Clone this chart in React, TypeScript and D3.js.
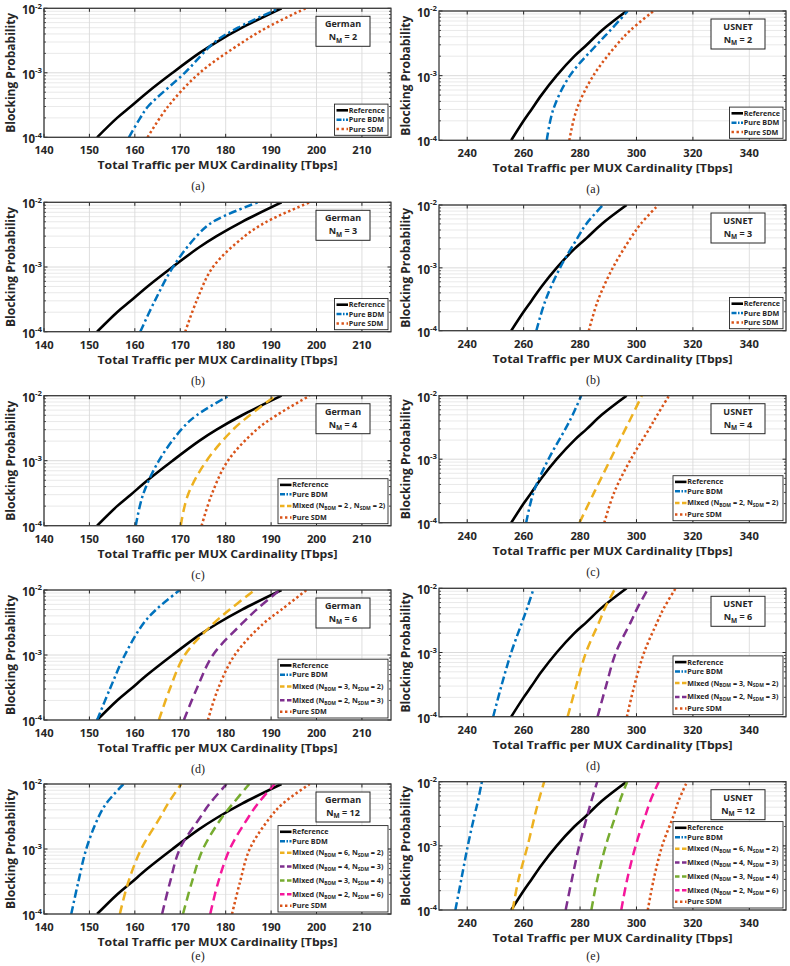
import * as d3 from "d3";

type Pt = [number, number];

// axis ticks
const germanTicks = [140, 150, 160, 170, 180, 190, 200, 210];
const usnetTicks = [240, 260, 280, 300, 320, 340];
const probTicks = [1e-4, 1e-3, 1e-2];

// German network, [traffic Tbps, blocking probability]
const germanRef: Pt[] = [[151.7, 1e-4], [156.1, 2e-4], [159.1, 3e-4], [162.8, 5e-4], [168.3, 1e-3], [174.1, 2e-3], [178, 3e-3], [183.6, 5e-3], [192.3, 1e-2]];

const germanBdm2: Pt[] = [[158.7, 1e-4], [161.2, 2e-4], [162.9, 3e-4], [171, 1e-3], [177.6, 3e-3], [182.7, 5e-3], [191.8, 1e-2]];
const germanSdm2: Pt[] = [[162.8, 1e-4], [167.3, 3e-4], [174.3, 1e-3], [183.8, 3e-3], [189, 5e-3], [197.6, 1e-2]];

const germanBdm3: Pt[] = [[161.2, 1e-4], [164.4, 3e-4], [168.4, 1e-3], [173.6, 3e-3], [177.2, 5e-3], [187.1, 1e-2]];
const germanSdm3: Pt[] = [[171.1, 1e-4], [173.6, 3e-4], [177.2, 1e-3], [184.2, 3e-3], [189, 5e-3], [198.5, 1e-2]];

const germanBdm4: Pt[] = [[160.2, 1e-4], [161.8, 3e-4], [165.3, 1e-3], [170.2, 3e-3], [173.6, 5e-3], [180.7, 1e-2]];
const germanMix4_22: Pt[] = [[170.1, 1e-4], [171.7, 3e-4], [175.8, 1e-3], [181.6, 3e-3], [185.3, 5e-3], [191, 1e-2]];
const germanSdm4: Pt[] = [[174.7, 1e-4], [176.9, 3e-4], [180.5, 1e-3], [186.8, 3e-3], [191.2, 5e-3], [198.5, 1e-2]];

const germanBdm6: Pt[] = [[151.7, 1e-4], [154.5, 3e-4], [157.8, 1e-3], [161.8, 3e-3], [164.7, 5e-3], [169.9, 1e-2]];
const germanMix6_32: Pt[] = [[165.3, 1e-4], [167.7, 3e-4], [171, 1e-3], [177.2, 3e-3], [180.9, 5e-3], [186.4, 1e-2]];
const germanMix6_23: Pt[] = [[170.8, 1e-4], [173.6, 3e-4], [177.2, 1e-3], [183.5, 3e-3], [186.8, 5e-3], [191.9, 1e-2]];
const germanSdm6: Pt[] = [[176.1, 1e-4], [178.3, 3e-4], [182, 1e-3], [188.2, 3e-3], [192.3, 5e-3], [197.8, 1e-2]];

const germanBdm12: Pt[] = [[146, 1e-4], [147.5, 3e-4], [149.3, 1e-3], [151.9, 3e-3], [153.7, 5e-3], [157.5, 1e-2]];
const germanMix12_62: Pt[] = [[156.7, 1e-4], [158.5, 3e-4], [161.4, 1e-3], [165.5, 3e-3], [167.3, 5e-3], [170.2, 1e-2]];
const germanMix12_43: Pt[] = [[166, 1e-4], [167.7, 3e-4], [169.9, 1e-3], [174.3, 3e-3], [176.5, 5e-3], [180.2, 1e-2]];
const germanMix12_34: Pt[] = [[170.6, 1e-4], [172.5, 3e-4], [175, 1e-3], [179.1, 3e-3], [181.6, 5e-3], [185.2, 1e-2]];
const germanMix12_26: Pt[] = [[176.6, 1e-4], [178.3, 3e-4], [180.9, 1e-3], [184.9, 3e-3], [187.1, 5e-3], [190.8, 1e-2]];
const germanSdm12: Pt[] = [[181.4, 1e-4], [183.1, 3e-4], [185.3, 1e-3], [189.7, 3e-3], [192.6, 5e-3], [198.5, 1e-2]];

// USNET network
const usnetRef: Pt[] = [[255.6, 1e-4], [260, 2e-4], [262.8, 3e-4], [266.3, 5e-4], [271.7, 1e-3], [278, 2e-3], [282.4, 3e-3], [287.7, 5e-3], [296.5, 1e-2]];

const usnetBdm2: Pt[] = [[268.2, 1e-4], [270.5, 3e-4], [276.4, 1e-3], [285.9, 3e-3], [290.7, 5e-3], [296.9, 1e-2]];
const usnetSdm2: Pt[] = [[276.2, 1e-4], [278.8, 3e-4], [284.7, 1e-3], [293, 3e-3], [297.8, 5e-3], [306, 1e-2]];

const usnetBdm3: Pt[] = [[264.5, 1e-4], [267.7, 3e-4], [272.9, 1e-3], [279.1, 3e-3], [282.2, 5e-3], [288.1, 1e-2]];
const usnetSdm3: Pt[] = [[283.1, 1e-4], [286.3, 3e-4], [291.6, 1e-3], [298, 3e-3], [301.5, 5e-3], [307.7, 1e-2]];

const usnetBdm4: Pt[] = [[260.9, 1e-4], [263.5, 3e-4], [268.8, 1e-3], [274.8, 3e-3], [277.4, 5e-3], [280.4, 1e-2]];
const usnetMix4_22: Pt[] = [[279.8, 1e-4], [285, 3e-4], [290.8, 1e-3], [296.1, 3e-3], [298.6, 5e-3], [301.9, 1e-2]];
const usnetSdm4: Pt[] = [[288.6, 1e-4], [292.1, 3e-4], [298, 1e-3], [304.5, 3e-3], [307.4, 5e-3], [311.5, 1e-2]];

const usnetBdm6: Pt[] = [[249.2, 1e-4], [252.1, 3e-4], [255.6, 1e-3], [259.5, 3e-3], [261.3, 5e-3], [263.6, 1e-2]];
const usnetMix6_32: Pt[] = [[275.6, 1e-4], [278.6, 3e-4], [282.1, 1e-3], [286.8, 3e-3], [288.9, 5e-3], [292.5, 1e-2]];
const usnetMix6_23: Pt[] = [[286.2, 1e-4], [289.2, 3e-4], [292.7, 1e-3], [298, 3e-3], [300.4, 5e-3], [304.2, 1e-2]];
const usnetSdm6: Pt[] = [[296.6, 1e-4], [299.2, 3e-4], [302.7, 1e-3], [307.4, 3e-3], [309.8, 5e-3], [313.9, 1e-2]];

const usnetBdm12: Pt[] = [[235.8, 1e-4], [237.9, 3e-4], [240.2, 1e-3], [242.6, 3e-3], [243.8, 5e-3], [245.2, 1e-2]];
const usnetMix12_62: Pt[] = [[256.1, 1e-4], [258.2, 3e-4], [261.4, 1e-3], [264, 3e-3], [265.3, 5e-3], [267.3, 1e-2]];
const usnetMix12_43: Pt[] = [[274.9, 1e-4], [277.1, 3e-4], [279.7, 1e-3], [282.6, 3e-3], [284, 5e-3], [286.1, 1e-2]];
const usnetMix12_34: Pt[] = [[284, 1e-4], [286.1, 3e-4], [289.1, 1e-3], [292.6, 3e-3], [294.1, 5e-3], [296.7, 1e-2]];
const usnetMix12_26: Pt[] = [[294.6, 1e-4], [296.7, 3e-4], [299.7, 1e-3], [303.2, 3e-3], [304.9, 5e-3], [307.9, 1e-2]];
const usnetSdm12: Pt[] = [[304, 1e-4], [306.1, 3e-4], [309.1, 1e-3], [313.2, 3e-3], [314.9, 5e-3], [317.9, 1e-2]];

type Kind = "ref" | "bdm" | "mix" | "sdm";
type Curve = { data: Pt[]; kind: Kind; n?: [number, number]; sep?: string };
type PanelDef = { net: "German" | "USNET"; nm: number; caption: string; curves: Curve[] };

const mixCurves = (list: [Pt[], number, number][], sep = ", "): Curve[] =>
  list.map(([data, a, b]) => ({ data, kind: "mix" as Kind, n: [a, b] as [number, number], sep }));

const germanPanels: PanelDef[] = [
  { net: "German", nm: 2, caption: "(a)", curves: [{ data: germanRef, kind: "ref" }, { data: germanBdm2, kind: "bdm" }, { data: germanSdm2, kind: "sdm" }] },
  { net: "German", nm: 3, caption: "(b)", curves: [{ data: germanRef, kind: "ref" }, { data: germanBdm3, kind: "bdm" }, { data: germanSdm3, kind: "sdm" }] },
  {
    net: "German", nm: 4, caption: "(c)",
    curves: [{ data: germanRef, kind: "ref" }, { data: germanBdm4, kind: "bdm" }, ...mixCurves([[germanMix4_22, 2, 2]], " , "), { data: germanSdm4, kind: "sdm" }],
  },
  {
    net: "German", nm: 6, caption: "(d)",
    curves: [{ data: germanRef, kind: "ref" }, { data: germanBdm6, kind: "bdm" }, ...mixCurves([[germanMix6_32, 3, 2], [germanMix6_23, 2, 3]]), { data: germanSdm6, kind: "sdm" }],
  },
  {
    net: "German", nm: 12, caption: "(e)",
    curves: [
      { data: germanRef, kind: "ref" }, { data: germanBdm12, kind: "bdm" },
      ...mixCurves([[germanMix12_62, 6, 2], [germanMix12_43, 4, 3], [germanMix12_34, 3, 4], [germanMix12_26, 2, 6]]),
      { data: germanSdm12, kind: "sdm" },
    ],
  },
];

const usnetPanels: PanelDef[] = [
  { net: "USNET", nm: 2, caption: "(a)", curves: [{ data: usnetRef, kind: "ref" }, { data: usnetBdm2, kind: "bdm" }, { data: usnetSdm2, kind: "sdm" }] },
  { net: "USNET", nm: 3, caption: "(b)", curves: [{ data: usnetRef, kind: "ref" }, { data: usnetBdm3, kind: "bdm" }, { data: usnetSdm3, kind: "sdm" }] },
  {
    net: "USNET", nm: 4, caption: "(c)",
    curves: [{ data: usnetRef, kind: "ref" }, { data: usnetBdm4, kind: "bdm" }, ...mixCurves([[usnetMix4_22, 2, 2]]), { data: usnetSdm4, kind: "sdm" }],
  },
  {
    net: "USNET", nm: 6, caption: "(d)",
    curves: [{ data: usnetRef, kind: "ref" }, { data: usnetBdm6, kind: "bdm" }, ...mixCurves([[usnetMix6_32, 3, 2], [usnetMix6_23, 2, 3]]), { data: usnetSdm6, kind: "sdm" }],
  },
  {
    net: "USNET", nm: 12, caption: "(e)",
    curves: [
      { data: usnetRef, kind: "ref" }, { data: usnetBdm12, kind: "bdm" },
      ...mixCurves([[usnetMix12_62, 6, 2], [usnetMix12_43, 4, 3], [usnetMix12_34, 3, 4], [usnetMix12_26, 2, 6]]),
      { data: usnetSdm12, kind: "sdm" },
    ],
  },
];

// layout of the two columns
const leftTops = [8.3, 202.3, 395.7, 590, 784];
const leftHeights = [129, 129.4, 130, 130, 130];
const rightTops = [11, 205, 395.7, 588.3, 781.7];
const rightHeights = [129.3, 125.7, 127, 128.4, 128.3];

const FONT = "'Open Sans', 'DejaVu Sans', sans-serif";
const SERIF = "'Liberation Serif', 'Times New Roman', serif";
const INK = "#262626";
const mixColors = ["#EDB120", "#7E2F8E", "#77AC30", "#F5179B"];

function strokeFor(c: Curve, mixIdx: number) {
  switch (c.kind) {
    case "ref":
      return { color: "#000", dash: undefined as string | undefined, width: 2.6 };
    case "bdm":
      return { color: "#0072BD", dash: "8 3.2 2.4 3.2", width: 2.5 };
    case "sdm":
      return { color: "#D95319", dash: "2.4 2.6", width: 2.5 };
    default:
      return { color: mixColors[mixIdx % mixColors.length], dash: "9 5", width: 2.5 };
  }
}

function LegendLabel({ c }: { c: Curve }) {
  const sub = { fontSize: 5, dy: 1.8 };
  if (c.kind === "ref") return <>Reference</>;
  if (c.kind === "bdm") return <>Pure BDM</>;
  if (c.kind === "sdm") return <>Pure SDM</>;
  const [a, b] = c.n!;
  return (
    <>
      <tspan>Mixed (N</tspan>
      <tspan fontSize={sub.fontSize} dy={sub.dy}>BDM</tspan>
      <tspan dy={-sub.dy}>{` = ${a}${c.sep}N`}</tspan>
      <tspan fontSize={sub.fontSize} dy={sub.dy}>SDM</tspan>
      <tspan dy={-sub.dy}>{` = ${b})`}</tspan>
    </>
  );
}

function Panel({ def, x0, x1, top, h, domain, ticks, id }: {
  def: PanelDef; x0: number; x1: number; top: number; h: number; domain: [number, number]; ticks: number[]; id: string;
}) {
  const bottom = top + h;
  const x = d3.scaleLinear().domain(domain).range([x0, x1]);
  const y = d3.scaleLog().domain([1e-4, 1e-2]).range([bottom, top]);
  const minors: number[] = [];
  [-4, -3].forEach((k) => d3.range(2, 10).forEach((m) => minors.push(m * Math.pow(10, k))));

  const line = d3.line<Pt>().x((d) => x(d[0])).y((d) => y(d[1])).curve(d3.curveCatmullRom.alpha(0.5));

  let mixCount = 0;
  const styled = def.curves.map((c) => {
    const s = strokeFor(c, c.kind === "mix" ? mixCount : 0);
    if (c.kind === "mix") mixCount++;
    return { c, s };
  });

  // legend box
  const hasMix = def.curves.some((c) => c.kind === "mix");
  const rowH = (c: Curve) => (c.kind === "mix" ? 13.8 : 9.4);
  const legH = 3 + d3.sum(def.curves, rowH);
  const legW = hasMix ? 110 : 53.5;
  const legX = x1 - 3 - legW;
  const legY = bottom - 2 - legH;
  let acc = legY + 1.5;
  const rows = styled.map(({ c, s }) => {
    const hh = rowH(c);
    const cy = acc + hh / 2;
    acc += hh;
    return { c, s, cy };
  });

  const annX = x1 - 75;
  const annY = top + 8;
  const cx = (x0 + x1) / 2;
  const cyMid = (top + bottom) / 2;

  return (
    <g>
      <defs>
        <clipPath id={id}>
          <rect x={x0} y={top} width={x1 - x0} height={h} />
        </clipPath>
      </defs>
      <rect x={x0} y={top} width={x1 - x0} height={h} fill="#fff" />
      {/* grid */}
      {minors.map((v) => (
        <line key={"m" + v} x1={x0} x2={x1} y1={y(v)} y2={y(v)} stroke="#e3e3e3" strokeWidth={0.8} />
      ))}
      {probTicks.map((v) => (
        <line key={"p" + v} x1={x0} x2={x1} y1={y(v)} y2={y(v)} stroke="#d6d6d6" strokeWidth={0.9} />
      ))}
      {ticks.map((t) => (
        <line key={"t" + t} x1={x(t)} x2={x(t)} y1={top} y2={bottom} stroke="#dadada" strokeWidth={0.9} />
      ))}
      {/* curves */}
      <g clipPath={`url(#${id})`}>
        {styled.map(({ c, s }, i) => (
          <path key={i} d={line(c.data) ?? ""} fill="none" stroke={s.color} strokeWidth={s.width} strokeDasharray={s.dash} />
        ))}
      </g>
      {/* tick marks */}
      {ticks.map((t) => (
        <g key={"k" + t}>
          <line x1={x(t)} x2={x(t)} y1={bottom} y2={bottom - 3.5} stroke={INK} strokeWidth={1} />
          <line x1={x(t)} x2={x(t)} y1={top} y2={top + 3.5} stroke={INK} strokeWidth={1} />
        </g>
      ))}
      {minors.map((v) => (
        <g key={"mk" + v}>
          <line x1={x0} x2={x0 + 2} y1={y(v)} y2={y(v)} stroke={INK} strokeWidth={0.8} />
          <line x1={x1} x2={x1 - 2} y1={y(v)} y2={y(v)} stroke={INK} strokeWidth={0.8} />
        </g>
      ))}
      {probTicks.map((v) => (
        <g key={"pk" + v}>
          <line x1={x0} x2={x0 + 3.5} y1={y(v)} y2={y(v)} stroke={INK} strokeWidth={1} />
          <line x1={x1} x2={x1 - 3.5} y1={y(v)} y2={y(v)} stroke={INK} strokeWidth={1} />
        </g>
      ))}
      <rect x={x0} y={top} width={x1 - x0} height={h} fill="none" stroke="#3a3a3a" strokeWidth={1.3} />

      {/* tick labels */}
      {ticks.map((t) => (
        <text key={"tl" + t} x={x(t)} y={bottom + 16.8} textAnchor="middle" fontFamily={FONT} fontWeight={700} fontSize={11.2} fill={INK}>
          {t}
        </text>
      ))}
      {probTicks.map((v) => (
        <text key={"pl" + v} x={x0 - 2} y={y(v) + 6} textAnchor="end" fontFamily={FONT} fontWeight={700} fontSize={11.5} fill={INK}>
          <tspan>10</tspan>
          <tspan fontSize={7.8} dy={-5.8}>{String(Math.round(Math.log10(v)))}</tspan>
        </text>
      ))}
      <text x={cx} y={bottom + 32} textAnchor="middle" fontFamily={FONT} fontWeight={700} fontSize={11.2} fill={INK}
        textLength={240} lengthAdjust="spacingAndGlyphs">
        Total Traffic per MUX Cardinality [Tbps]
      </text>
      <text transform={`translate(${x0 - 29.5},${cyMid}) rotate(-90)`} textAnchor="middle" fontFamily={FONT} fontWeight={700}
        fontSize={12} fill={INK} textLength={120} lengthAdjust="spacingAndGlyphs">
        Blocking Probability
      </text>

      {/* network annotation */}
      <rect x={annX} y={annY} width={54} height={30} fill="#fff" stroke={INK} strokeWidth={1} />
      <text x={annX + 27} y={annY + 11} textAnchor="middle" fontFamily={FONT} fontWeight={700} fontSize={9} fill={INK}>
        {def.net}
      </text>
      <text x={annX + 27} y={annY + 24} textAnchor="middle" fontFamily={FONT} fontWeight={700} fontSize={9} fill={INK}>
        <tspan>N</tspan>
        <tspan fontSize={6.5} dy={2.2}>M</tspan>
        <tspan dy={-2.2}>{` = ${def.nm}`}</tspan>
      </text>

      {/* legend */}
      <rect x={legX} y={legY} width={legW} height={legH} fill="#fff" stroke={INK} strokeWidth={0.9} />
      {rows.map(({ c, s, cy }, i) => (
        <g key={"lg" + i}>
          <line x1={legX + 2} x2={legX + 13.5} y1={cy} y2={cy} stroke={s.color} strokeWidth={s.width}
            strokeDasharray={c.kind === "bdm" ? "5 1.5 1.5 1.5" : c.kind === "mix" ? "4.5 2.5" : s.dash} />
          <text x={legX + 14.2} y={cy + 2.5} fontFamily={FONT} fontWeight={700} fontSize={7.2} fill={INK}>
            <LegendLabel c={c} />
          </text>
        </g>
      ))}

      <text x={x0 - 44 + 198} y={Math.min(bottom + 53, 960)} textAnchor="middle" fontFamily={SERIF} fontSize={12} fill="#222">
        {def.caption}
      </text>
    </g>
  );
}

export default function App() {
  return (
    <svg width={790} height={966} style={{ position: "absolute", left: 0, top: 0, background: "#fff" }}>
      <rect width={790} height={966} fill="#fff" />
      {germanPanels.map((p, i) => (
        <Panel key={"g" + i} id={"clipG" + i} def={p} x0={44} x1={391} top={leftTops[i]} h={leftHeights[i]} domain={[140, 216.4]} ticks={germanTicks} />
      ))}
      {usnetPanels.map((p, i) => (
        <Panel key={"u" + i} id={"clipU" + i} def={p} x0={439} x1={786} top={rightTops[i]} h={rightHeights[i]} domain={[230, 353]} ticks={usnetTicks} />
      ))}
    </svg>
  );
}
